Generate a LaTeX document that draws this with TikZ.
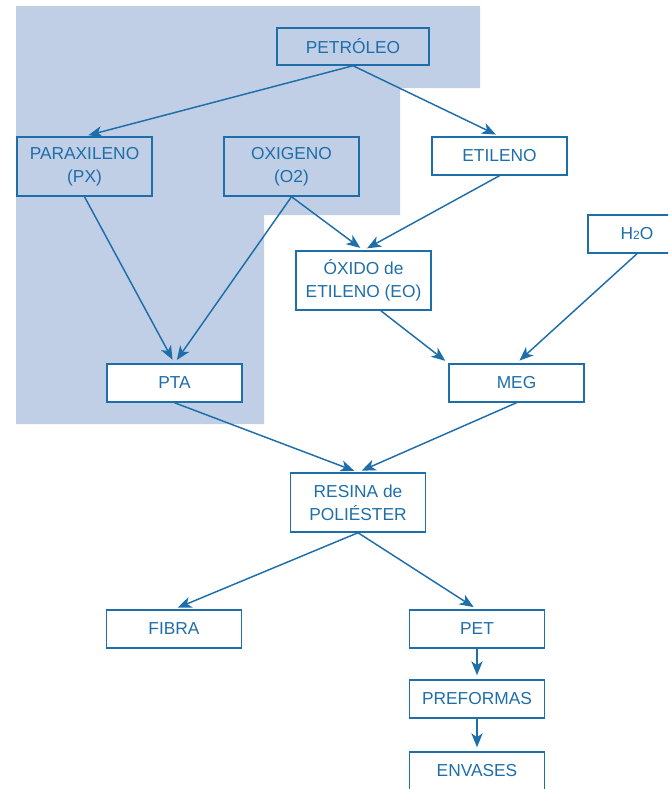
\documentclass[tikz,border=0pt]{standalone}
\usepackage{fontspec}
\setmainfont{Liberation Sans}
\usetikzlibrary{arrows.meta}

\definecolor{flowblue}{RGB}{30,110,170}
\definecolor{shadeblue}{RGB}{192,207,230}

\begin{document}
\begin{tikzpicture}[x=0.75pt, y=-0.75pt,
    stage/.style={draw=flowblue, line width=1.1pt, text=flowblue, align=center,
        minimum width=101pt, minimum height=28.5pt, inner sep=2pt,
        font=\fontsize{13}{17}\selectfont},
    tall/.style={stage, minimum height=44.25pt},
    flow/.style={-{Stealth[length=10.5pt, width=8.5pt, inset=3pt]}, draw=flowblue,
        line width=1.1pt, shorten >=3pt}
]
\useasboundingbox (0,0) rectangle (668,789);
\clip (0,0) rectangle (668,789);

% Shaded area
\fill[shadeblue] (16,6) -- (480,6) -- (480,88) -- (400,88) -- (400,215)
    -- (264,215) -- (264,424) -- (16,424) -- cycle;

% Raw materials
\node[stage, minimum width=114pt, minimum height=27.75pt] (petroleo) at (353,46.5) {PETRÓLEO};
\node[tall] (px) at (84.5,166.5) {PARAXILENO\\(PX)};
\node[tall] (oxigeno) at (291.5,166.5) {OXIGENO\\(O2)};
\node[stage] (etileno) at (499.5,156) {ETILENO};
\node[tall] (eo) at (363.5,280.5) {ÓXIDO de\\ETILENO (EO)};
\node[stage, minimum width=73.5pt] (h2o) at (637,234) {H{\small 2}O};

% Intermediates
\node[stage, fill=white] (pta) at (174.5,383) {PTA};
\node[stage] (meg) at (516.5,383) {MEG};
\node[tall] (resina) at (358,502.5) {RESINA de\\POLIÉSTER};

% Products
\node[stage] (fibra) at (174,629) {FIBRA};
\node[stage] (pet) at (477,629) {PET};
\node[stage] (preformas) at (477,699) {PREFORMAS};
\node[stage] (envases) at (477,771) {ENVASES};

% Connections
\draw[flow] (petroleo.south) -- (px.north);
\draw[flow] (petroleo.south) -- (etileno.north);
\draw[flow] (etileno.south) -- (eo.north);
\draw[flow] (oxigeno.south) -- (eo.north);
\draw[flow] (oxigeno.south) -- (pta.north);
\draw[flow] (px.south) -- (pta.north);
\draw[flow] ([xshift=13pt]eo.south) -- (meg.north west);
\draw[flow] (h2o.south) -- (meg.north);
\draw[flow] (pta.south) -- (resina.north);
\draw[flow] (meg.south) -- (resina.north);
\draw[flow] (resina.south) -- (fibra.north);
\draw[flow] (resina.south) -- (pet.north);
\draw[flow] (pet.south) -- (preformas.north);
\draw[flow] (preformas.south) -- (envases.north);

\end{tikzpicture}
\end{document}
